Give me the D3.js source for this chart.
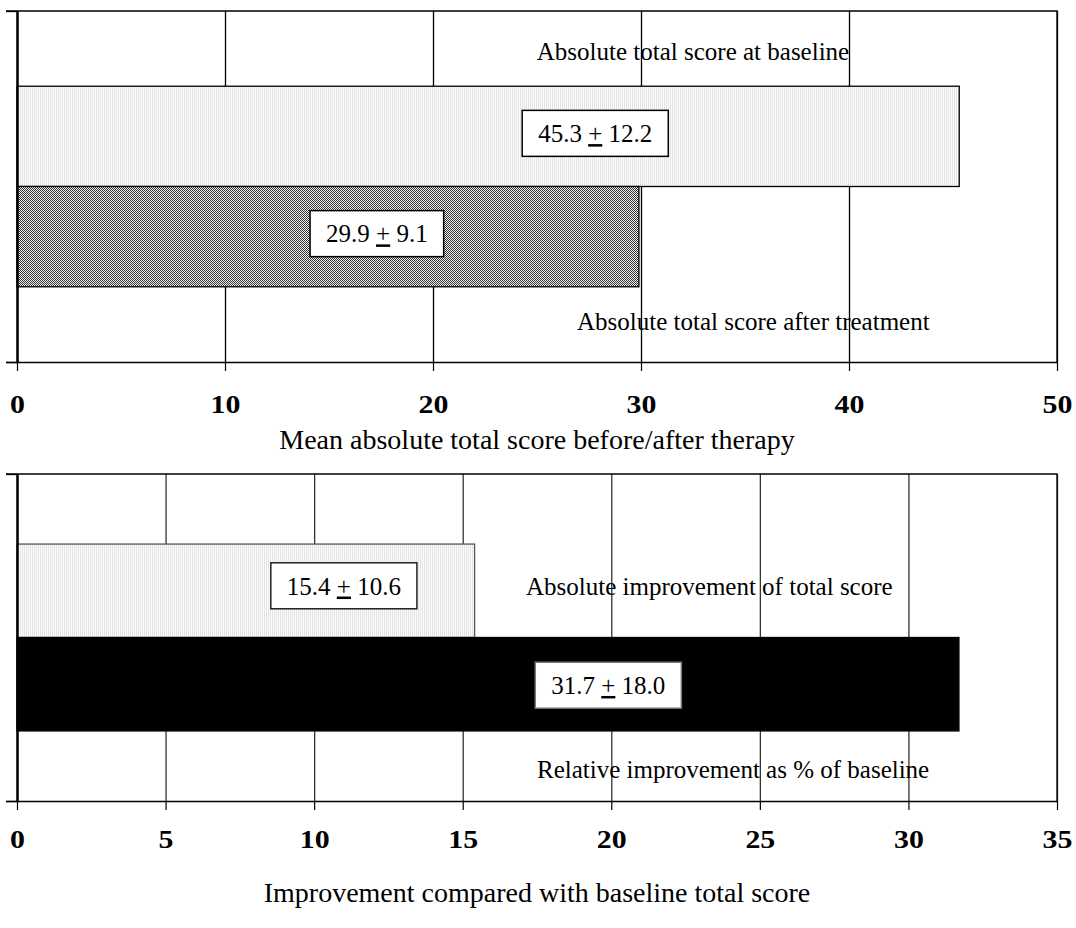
<!DOCTYPE html>
<html>
<head>
<meta charset="utf-8">
<script src="https://cdn.jsdelivr.net/npm/d3@7"></script>
<style>
  html, body { margin: 0; padding: 0; background: #fff; }
  svg { display: block; font-family: "Liberation Serif", "Times New Roman", serif; }
</style>
</head>
<body>
<svg id="chart" width="1076" height="928"></svg>
<script>
// ---------------- DATA ----------------
const topCategories = ["Absolute total score at baseline", "Absolute total score after treatment"];
const topMeans = [45.3, 29.9];
const topSDs = [12.2, 9.1];
const topTicks = [0, 10, 20, 30, 40, 50];
const topTitle = "Mean absolute total score before/after therapy";

const bottomCategories = ["Absolute improvement of total score", "Relative improvement as % of baseline"];
const bottomMeans = [15.4, 31.7];
const bottomSDs = [10.6, 18.0];
const bottomTicks = [0, 5, 10, 15, 20, 25, 30, 35];
const bottomTitle = "Improvement compared with baseline total score";

// ---------------- LAYOUT ----------------
const svg = d3.select("#chart");
const defs = svg.append("defs");

// light fine pattern
const pLight = defs.append("pattern").attr("id", "pLight").attr("patternUnits", "userSpaceOnUse")
  .attr("width", 2).attr("height", 2);
pLight.append("rect").attr("width", 2).attr("height", 2).attr("fill", "#fbfbfb");
pLight.append("rect").attr("x", 0).attr("width", 1).attr("height", 2).attr("fill", "#e4e4e4");

// dense checker pattern
const pDark = defs.append("pattern").attr("id", "pDark").attr("patternUnits", "userSpaceOnUse")
  .attr("width", 2).attr("height", 2);
pDark.append("rect").attr("width", 2).attr("height", 2).attr("fill", "#f2f2f2");
pDark.append("rect").attr("x", 0).attr("y", 0).attr("width", 1).attr("height", 1).attr("fill", "#333");
pDark.append("rect").attr("x", 1).attr("y", 1).attr("width", 1).attr("height", 1).attr("fill", "#333");

const panels = [
  {
    cats: topCategories, means: topMeans, sds: topSDs, ticks: topTicks, title: topTitle,
    x0: 17, x1: 1057, y0: 11, y1: 362, tickLabelDy: 42, titleY: 441,
    fills: ["url(#pLight)", "url(#pDark)"], barStroke: ["#000", "#000"],
    gridColor: "#000",
    boxAt: [27.8, 17.3], boxDy: [-3, -3], boxStroke: ["#000", "#000"],
    labelAt: [32.5, 35.4], labelY: [52, 322]
  },
  {
    cats: bottomCategories, means: bottomMeans, sds: bottomSDs, ticks: bottomTicks, title: bottomTitle,
    x0: 17, x1: 1057, y0: 474, y1: 801, tickLabelDy: 38, titleY: 894,
    fills: ["url(#pLight)", "#000"], barStroke: ["#555", "#000"],
    gridColor: "#333",
    boxAt: [11.0, 19.9], boxDy: [-5, 1], boxStroke: ["#222", "#777"],
    labelAt: [23.3, 24.1], labelY: [587, 770]
  }
];

panels.forEach(P => {
  const g = svg.append("g");
  const x = d3.scaleLinear().domain([P.ticks[0], P.ticks[P.ticks.length - 1]]).range([P.x0, P.x1]);
  const band = d3.scaleBand().domain(["all"]).range([P.y0, P.y1]).paddingOuter(0.375).paddingInner(0);
  const y = d3.scaleBand().domain(P.cats).range([band("all"), band("all") + band.bandwidth()]).padding(0);

  // gridlines
  const grid = g.append("g").attr("transform", `translate(0,${P.y1})`)
    .call(d3.axisBottom(x).tickValues(P.ticks).tickSize(-(P.y1 - P.y0)).tickFormat(""));
  grid.select(".domain").remove();
  grid.selectAll(".tick line").attr("stroke", P.gridColor).attr("stroke-width", 1.3);

  // plot border (top + right)
  g.append("path")
    .attr("d", `M${P.x0 - 11},${P.y0}H${P.x1}V${P.y1}`)
    .attr("fill", "none").attr("stroke", "#000").attr("stroke-width", 1.3);

  // bars
  g.selectAll("rect.bar").data(P.cats).join("rect").attr("class", "bar")
    .attr("x", x(0)).attr("y", d => y(d))
    .attr("width", (d, i) => x(P.means[i]) - x(0)).attr("height", y.bandwidth())
    .attr("fill", (d, i) => P.fills[i])
    .attr("stroke", (d, i) => P.barStroke[i]).attr("stroke-width", 1.3);

  // x axis
  const xa = g.append("g").attr("transform", `translate(0,${P.y1})`)
    .call(d3.axisBottom(x).tickValues(P.ticks).tickSizeInner(9).tickSizeOuter(0).tickPadding(0));
  xa.select(".domain").attr("d", `M${P.x0 - 11},0.5H${P.x1}`).attr("stroke", "#000").attr("stroke-width", 1.5);
  xa.selectAll(".tick line").attr("stroke", "#000").attr("stroke-width", 1.2);
  xa.selectAll(".tick text")
    .attr("y", P.tickLabelDy).attr("dy", "0.35em")
    .attr("font-family", "Liberation Serif, serif").attr("font-weight", "bold")
    .attr("font-size", 26).attr("fill", "#000")
    .attr("transform", "scale(1.15,1)");

  // y axis (category axis) with ticks at band edges
  const yEdges = d3.scalePoint().domain(["top", "bottom"]).range([P.y0, P.y1]);
  const ya = g.append("g").attr("transform", `translate(${P.x0},0)`)
    .call(d3.axisLeft(yEdges).tickSizeInner(11).tickSizeOuter(0).tickFormat(""));
  ya.select(".domain").attr("stroke", "#000").attr("stroke-width", 2.5);
  ya.selectAll(".tick line").attr("stroke", "#000").attr("stroke-width", 1.3);

  // category labels
  g.selectAll("text.cat").data(P.cats).join("text").attr("class", "cat")
    .attr("x", (d, i) => x(P.labelAt[i])).attr("y", (d, i) => P.labelY[i])
    .attr("dy", "0.33em").attr("text-anchor", "middle")
    .attr("font-size", 25).attr("fill", "#000")
    .text(d => d);

  // value boxes
  P.cats.forEach((c, i) => {
    const cx = x(P.boxAt[i]);
    const cy = y(c) + y.bandwidth() / 2 + P.boxDy[i];
    const bg = g.append("g");
    const rect = bg.append("rect");
    const t = bg.append("text").attr("x", cx).attr("y", cy).attr("dy", "0.35em")
      .attr("text-anchor", "middle").attr("font-size", 25).attr("fill", "#000");
    t.append("tspan").text(P.means[i].toFixed(1) + " ");
    t.append("tspan").style("text-decoration", "underline").text("+");
    t.append("tspan").text(" " + P.sds[i].toFixed(1));
    const bb = t.node().getBBox();
    const bw = bb.width + 32, bh = 46;
    rect.attr("x", cx - bw / 2).attr("y", cy - bh / 2).attr("width", bw).attr("height", bh)
      .attr("fill", "#fff").attr("stroke", P.boxStroke[i]).attr("stroke-width", 1.5);
  });

  // title
  svg.append("text").attr("x", 537).attr("y", P.titleY).attr("dy", "0.3em")
    .attr("text-anchor", "middle").attr("font-size", 28).attr("fill", "#000")
    .text(P.title);
});
</script>
</body>
</html>
